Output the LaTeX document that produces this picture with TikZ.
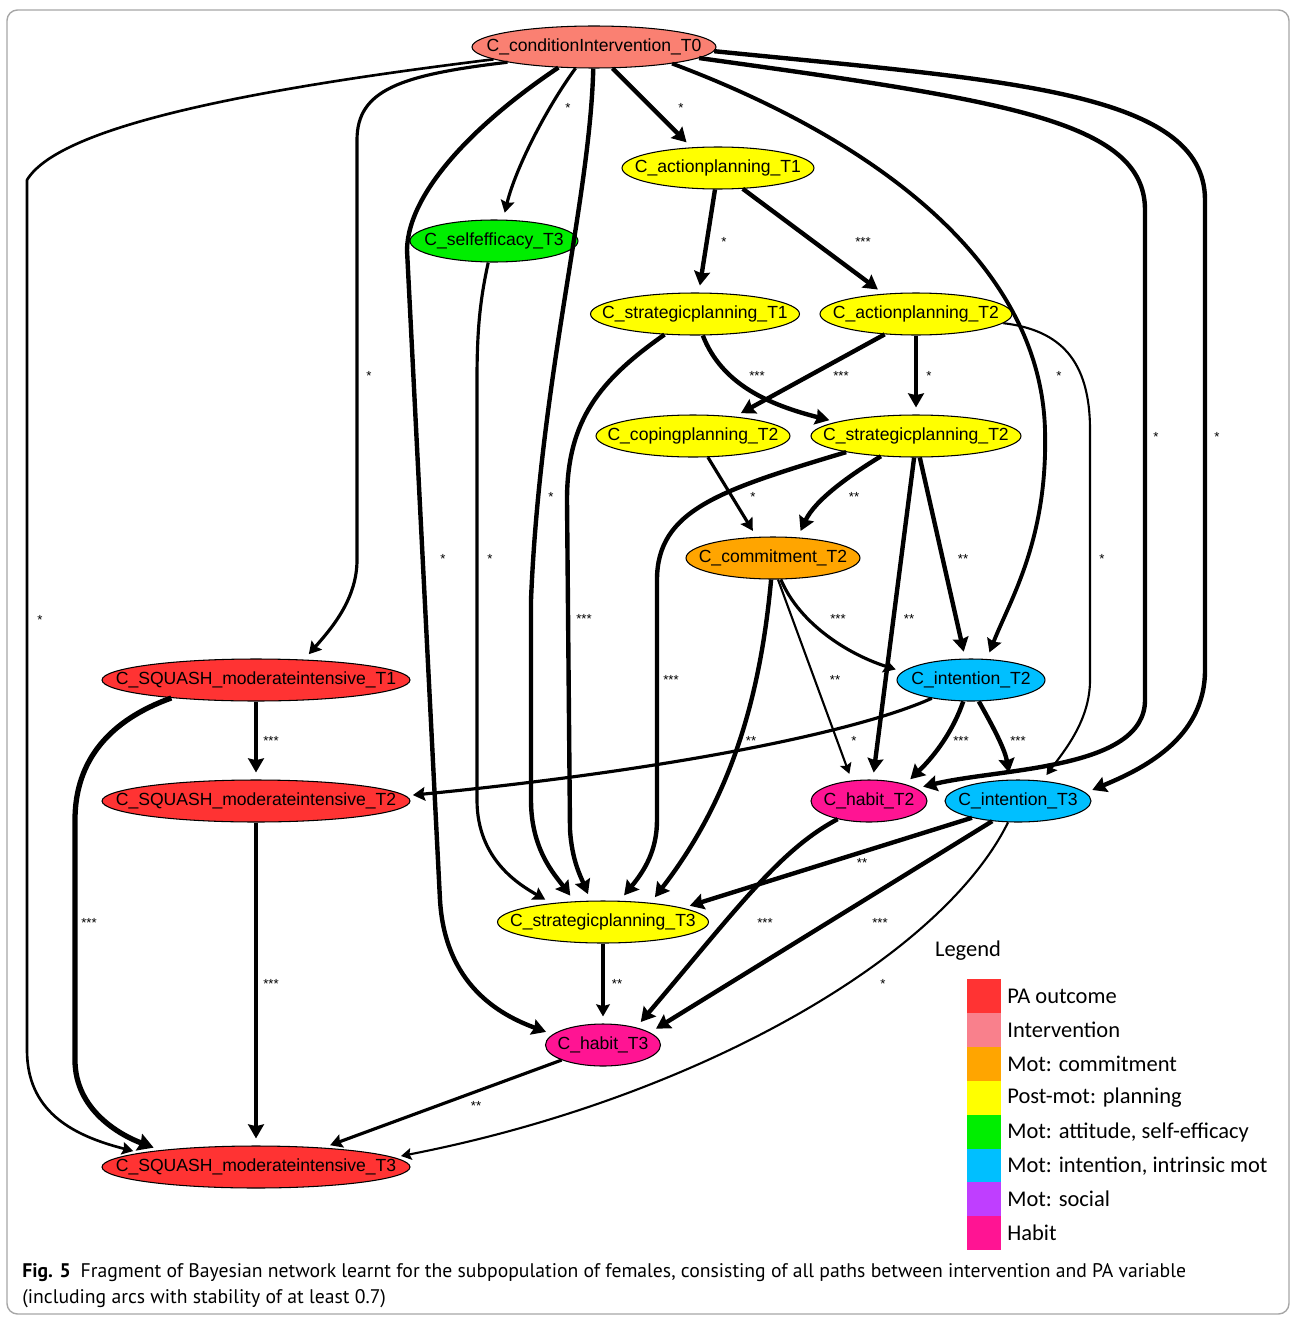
\documentclass[tikz,border=0pt]{standalone}
\usepackage{fontspec}
\setmainfont{Liberation Sans}
\newfontfamily\capfont{PT Sans}
\newfontfamily\legfont{Carlito}
\usetikzlibrary{shapes.geometric,arrows.meta}
\definecolor{cOutcome}{HTML}{FF3333}
\definecolor{cInterv}{HTML}{FA8072}
\definecolor{cIntervKey}{HTML}{F9808C}
\definecolor{cCommit}{HTML}{FFA500}
\definecolor{cPlan}{HTML}{FFFF00}
\definecolor{cSelf}{HTML}{00EE00}
\definecolor{cIntent}{HTML}{00BFFF}
\definecolor{cSocial}{HTML}{BF3EFF}
\definecolor{cHabit}{HTML}{FF1493}
\newcommand{\vname}[1]{\makebox[0pt]{#1}}
\begin{document}
\begin{tikzpicture}[x=0.02cm,y=-0.02cm,
  var/.style={ellipse, draw, line width=0.6pt, inner sep=0pt, minimum height=0.84cm, font=\fontsize{10}{12}\selectfont},
  arc/.style={-{Stealth[length=4pt 1.6, width=4.5pt 1.8, inset=1pt]}, shorten >=4pt, line join=round},
  arcthin/.style={arc, line width=1.2pt},
  arcmid/.style={arc, line width=1.8pt},
  arcthick/.style={arc, line width=2.5pt},
  arcfat/.style={arc, line width=3pt},
  lab/.style={font=\fontsize{7.5}{9}\selectfont, inner sep=0pt},
  legbox/.style={minimum size=0.68cm, inner sep=0pt},
  legtext/.style={anchor=west, inner sep=0pt, font=\legfont\fontsize{12.8}{15}\selectfont}]
\useasboundingbox (0,0) rectangle (1292,1318);
\draw[gray!70, line width=0.8pt, rounded corners=6pt] (7,10) rectangle (1289,1314);
\node[var, fill=cInterv, minimum width=4.88cm] (condInt) at (594,47) {\vname{C\_conditionIntervention\_T0}};
\node[var, fill=cPlan, minimum width=3.84cm] (actT1) at (718,168) {\vname{C\_actionplanning\_T1}};
\node[var, fill=cSelf, minimum width=3.36cm] (self) at (494,241) {\vname{C\_selfefficacy\_T3}};
\node[var, fill=cPlan, minimum width=4.18cm] (strT1) at (695,314) {\vname{C\_strategicplanning\_T1}};
\node[var, fill=cPlan, minimum width=3.84cm] (actT2) at (916,314) {\vname{C\_actionplanning\_T2}};
\node[var, fill=cPlan, minimum width=3.88cm] (copT2) at (693,436) {\vname{C\_copingplanning\_T2}};
\node[var, fill=cPlan, minimum width=4.2cm] (strT2) at (916,436) {\vname{C\_strategicplanning\_T2}};
\node[var, fill=cCommit, minimum width=3.48cm] (comT2) at (773,558) {\vname{C\_commitment\_T2}};
\node[var, fill=cIntent, minimum width=2.96cm] (intT2) at (971,680) {\vname{C\_intention\_T2}};
\node[var, fill=cOutcome, minimum width=6.16cm] (sqT1) at (256,680) {\vname{C\_SQUASH\_moderateintensive\_T1}};
\node[var, fill=cOutcome, minimum width=6.16cm] (sqT2) at (256,801) {\vname{C\_SQUASH\_moderateintensive\_T2}};
\node[var, fill=cHabit, minimum width=2.32cm] (habT2) at (869,801) {\vname{C\_habit\_T2}};
\node[var, fill=cIntent, minimum width=2.92cm] (intT3) at (1018,801) {\vname{C\_intention\_T3}};
\node[var, fill=cPlan, minimum width=4.22cm] (strT3) at (603,922) {\vname{C\_strategicplanning\_T3}};
\node[var, fill=cHabit, minimum width=2.3cm] (habT3) at (603,1045) {\vname{C\_habit\_T3}};
\node[var, fill=cOutcome, minimum width=6.16cm] (sqT3) at (256,1167) {\vname{C\_SQUASH\_moderateintensive\_T3}};
\draw[arcthin, line width=1.5pt](condInt.187) .. controls (260,88) and (60,125) .. (27,180) -- (27,1050) .. controls (27,1110) and (70,1135) .. (sqT3.173);
\draw[arcmid](condInt.190) .. controls (400,75) and (357,90) .. (357,140) -- (357,560) .. controls (357,600) and (330,630) .. (sqT1.23);
\draw[arcthick](condInt.210) .. controls (480,120) and (408,190) .. (407,250) -- (440,900) .. controls (445,985) and (500,1015) .. (habT3.168);
\draw[arcmid](condInt.229) .. controls (545,110) and (515,170) .. (self.67);
\draw[arcthick](condInt.268) .. controls (590,200) and (540,380) .. (531,600) -- (531,800) .. controls (531,850) and (555,875) .. (strT3.144);
\draw[arcthick](condInt.311) -- (actT1.142);
\draw[arcthick, line width=2.2pt](condInt.348) .. controls (850,130) and (1040,250) .. (1045,430) .. controls (1048,540) and (1010,600) .. (intT2.53);
\draw[arcthick](condInt.354) .. controls (1000,100) and (1145,120) .. (1145,210) -- (1145,700) .. controls (1145,770) and (1000,768) .. (habT2.15);
\draw[arcthick](condInt.358) .. controls (1000,80) and (1205,90) .. (1205,200) -- (1205,670) .. controls (1205,740) and (1140,770) .. (intT3.7);
\draw[arcthick](actT1.262) -- (strT1.80);
\draw[arcthick](actT1.320) -- (actT2.148);
\draw[arcthick](strT1.214) .. controls (600,380) and (567,420) .. (567,500) -- (570,830) .. controls (572,860) and (580,875) .. (strT3.120);
\draw[arcthick](strT1.290) .. controls (722,385) and (770,405) .. (strT2.170);
\draw[arcthick](actT2.213) -- (copT2.25);
\draw[arcthick](actT2.south) -- (strT2.north);
\draw[arcthin](actT2.354) .. controls (1060,330) and (1090,360) .. (1090,430) -- (1090,680) .. controls (1090,720) and (1065,750) .. (intT3.40);
\draw[arcmid](copT2.305) -- (comT2.128);
\draw[arcthick](strT2.210) .. controls (850,475) and (815,500) .. (comT2.40);
\draw[arcthick](strT2.193) .. controls (720,490) and (657,510) .. (657,580) -- (657,820) .. controls (657,850) and (645,870) .. (strT3.52);
\draw[arcthick](strT2.265) -- (habT2.80);
\draw[arcthick](strT2.280) -- (intT2.105);
\draw[arcmid](comT2.290) .. controls (800,625) and (850,655) .. (intT2.173);
\draw[arcthin](comT2.283) -- (habT2.130);
\draw[arcthick](comT2.265) .. controls (760,700) and (730,800) .. (strT3.22);
\draw[arcmid](intT2.205) .. controls (850,735) and (650,772) .. (sqT2.2);
\draw[arcthick](intT2.250) .. controls (950,740) and (925,765) .. (habT2.25);
\draw[arcthick](intT2.290) .. controls (995,730) and (1005,750) .. (intT3.110);
\draw[arcthick](sqT1.south) -- (sqT2.north);
\draw[arcfat](sqT1.192) .. controls (110,720) and (75,760) .. (75,820) -- (75,1060) .. controls (75,1110) and (120,1135) .. (sqT3.170);
\draw[arcthick](sqT2.south) -- (sqT3.north);
\draw[arcmid](self.255) .. controls (480,300) and (477,330) .. (477,380) -- (477,800) .. controls (477,860) and (520,885) .. (strT3.160);
\draw[arcthick](intT3.200) -- (strT3.10);
\draw[arcthick](habT2.210) .. controls (780,850) and (740,905) .. (habT3.28);
\draw[arcthick](intT3.218) -- (habT3.15);
\draw[arcthin](intT3.245) .. controls (940,960) and (690,1100) .. (sqT3.4);
\draw[arcmid](habT3.200) -- (sqT3.16);
\draw[arcmid](strT3.south) -- (habT3.north);
\node[lab] (l1) at (40,620) {*};
\node[lab] (l2) at (369,376) {*};
\node[lab] (l3) at (443,559) {*};
\node[lab] (l4) at (568,108) {*};
\node[lab] (l5) at (551,497) {*};
\node[lab] (l6) at (681,108) {*};
\node[lab] (l7) at (1059,376) {*};
\node[lab] (l8) at (1156,437) {*};
\node[lab] (l9) at (1217,437) {*};
\node[lab] (l10) at (724,242) {*};
\node[lab] (l11) at (863,242) {***};
\node[lab] (l12) at (584,619) {***};
\node[lab] (l13) at (757,376) {***};
\node[lab] (l14) at (841,376) {***};
\node[lab] (l15) at (929,376) {*};
\node[lab] (l16) at (1102,559) {*};
\node[lab] (l17) at (753,497) {*};
\node[lab] (l18) at (854,497) {**};
\node[lab] (l19) at (671,680) {***};
\node[lab] (l20) at (909,619) {**};
\node[lab] (l21) at (963,559) {**};
\node[lab] (l22) at (838,619) {***};
\node[lab] (l23) at (835,680) {**};
\node[lab] (l24) at (751,741) {**};
\node[lab] (l25) at (854,741) {*};
\node[lab] (l26) at (961,741) {***};
\node[lab] (l27) at (1018,741) {***};
\node[lab] (l28) at (271,741) {***};
\node[lab] (l29) at (89,923) {***};
\node[lab] (l30) at (271,984) {***};
\node[lab] (l31) at (490,559) {*};
\node[lab] (l32) at (862,863) {**};
\node[lab] (l33) at (765,923) {***};
\node[lab] (l34) at (880,923) {***};
\node[lab] (l35) at (883,984) {*};
\node[lab] (l36) at (476,1106) {**};
\node[lab] (l37) at (617,984) {**};
\node[font=\legfont\fontsize{12.8}{15}\selectfont, inner sep=0pt] (legT) at (968,951) {Legend};
\node[legbox, fill=cOutcome] (k1) at (984,996) {};
\node[legbox, fill=cIntervKey] (k2) at (984,1030) {};
\node[legbox, fill=cCommit] (k3) at (984,1064) {};
\node[legbox, fill=cPlan] (k4) at (984,1098) {};
\node[legbox, fill=cSelf] (k5) at (984,1132) {};
\node[legbox, fill=cIntent] (k6) at (984,1166) {};
\node[legbox, fill=cSocial] (k7) at (984,1199) {};
\node[legbox, fill=cHabit] (k8) at (984,1233) {};
\node[legtext] (t1) at (1007,996) {PA outcome};
\node[legtext] (t2) at (1007,1030) {Intervention};
\node[legtext] (t3) at (1007,1064) {Mot: commitment};
\node[legtext] (t4) at (1007,1098) {Post-mot: planning};
\node[legtext] (t5) at (1007,1132) {Mot: attitude, self-efficacy};
\node[legtext] (t6) at (1007,1166) {Mot: intention, intrinsic mot};
\node[legtext] (t7) at (1007,1199) {Mot: social};
\node[legtext] (t8) at (1007,1233) {Habit};
\node[anchor=west, inner sep=0pt, font=\capfont\fontsize{11.2}{14}\selectfont] (cap1) at (22,1273) {\textbf{Fig. 5}\enspace Fragment of Bayesian network learnt for the subpopulation of females, consisting of all paths between intervention and PA variable};
\node[anchor=west, inner sep=0pt, font=\capfont\fontsize{11.2}{14}\selectfont] (cap2) at (22,1299) {(including arcs with stability of at least 0.7)};
\end{tikzpicture}
\end{document}
